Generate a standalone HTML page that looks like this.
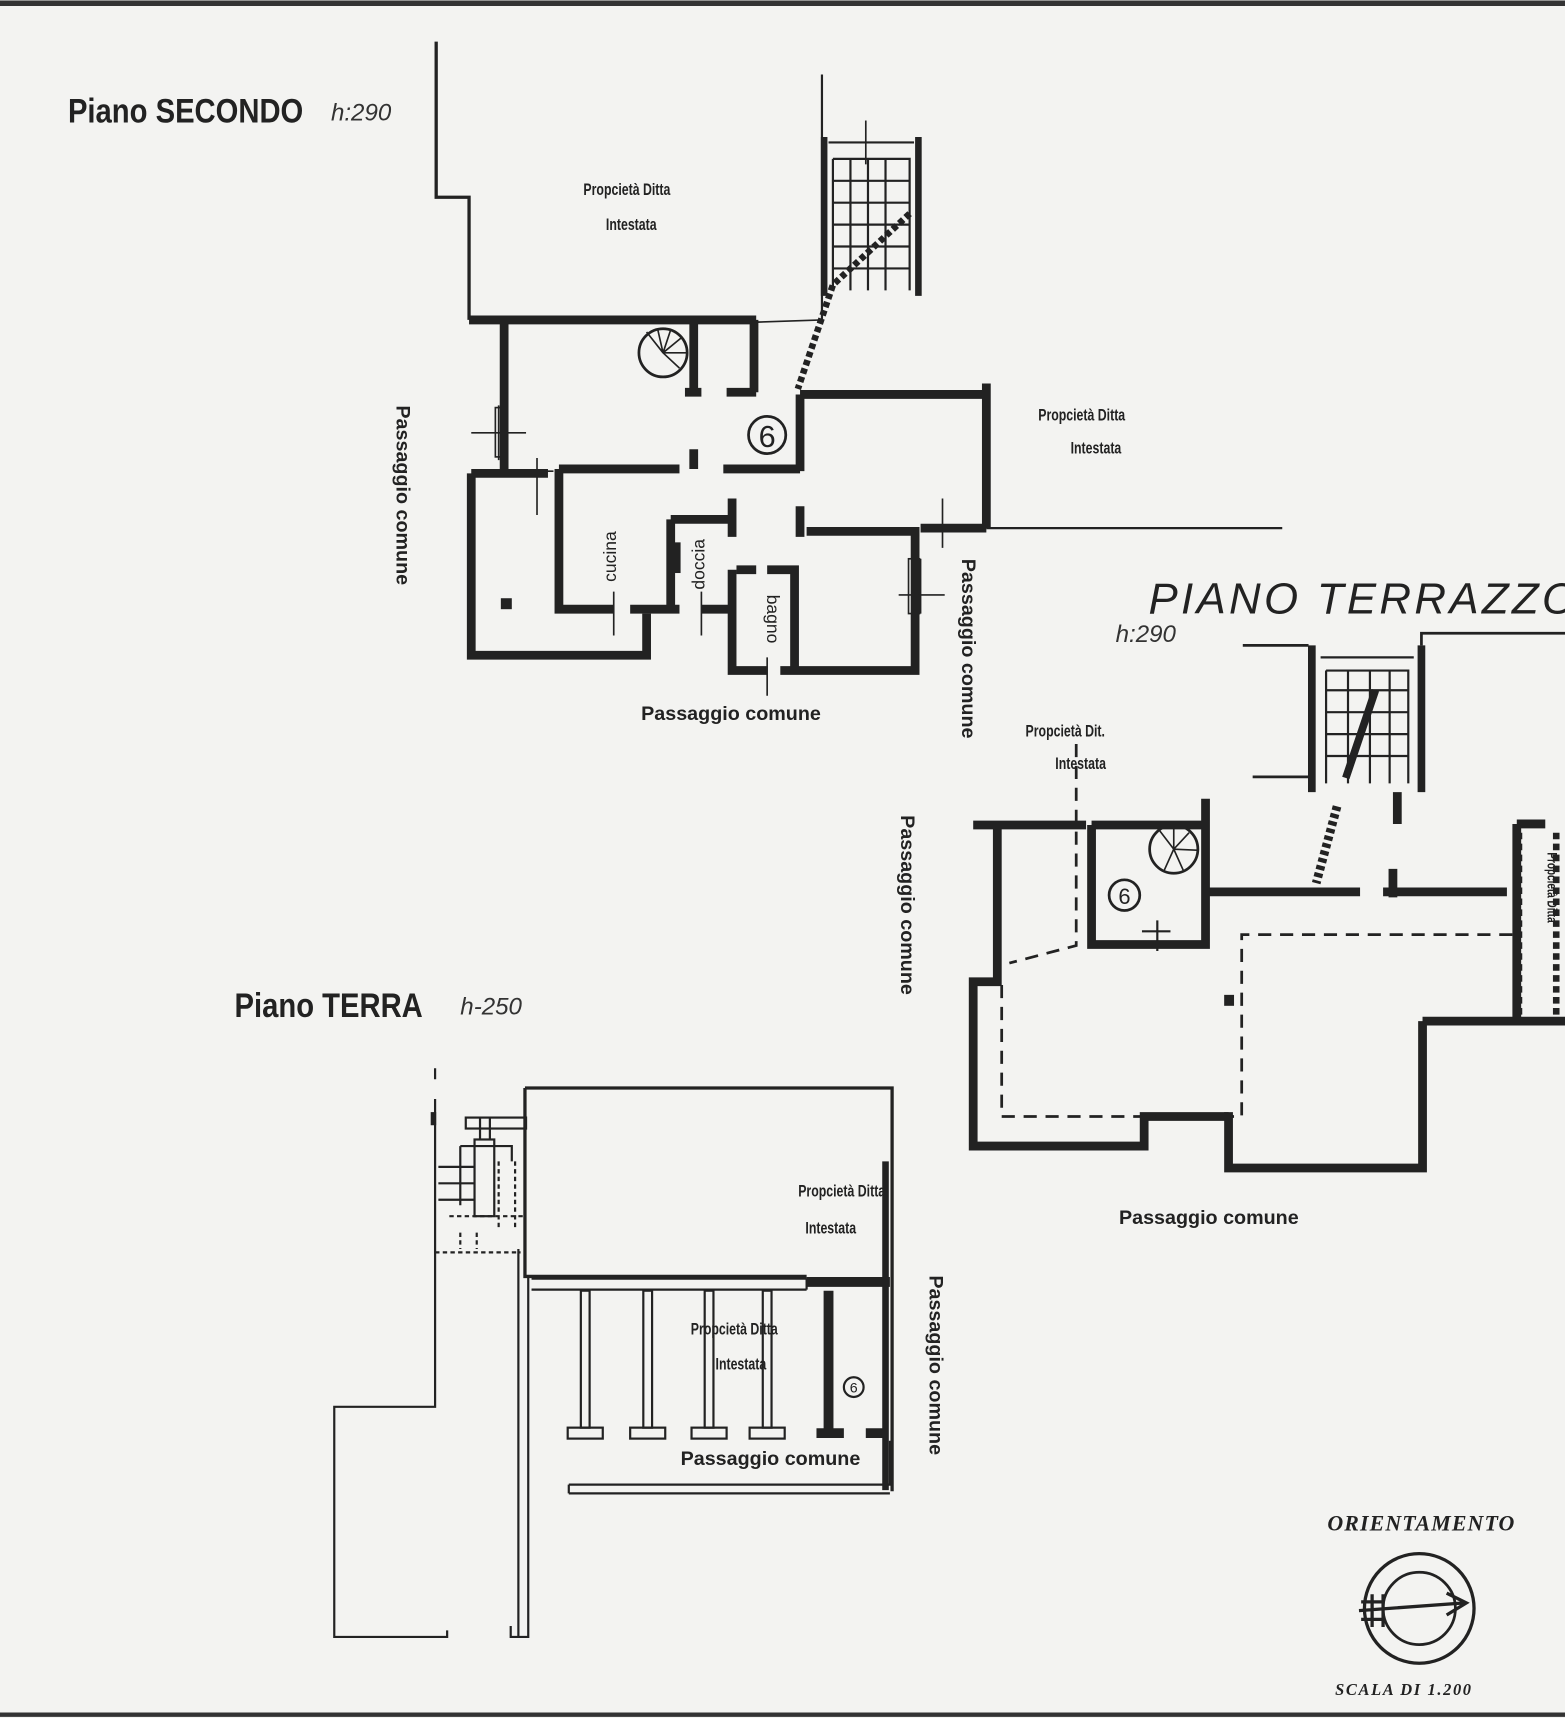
<!DOCTYPE html>
<html><head><meta charset="utf-8"><style>
html,body{margin:0;padding:0;background:#f3f3f1;}
svg{display:block}
.b{font-family:"Liberation Sans",sans-serif;font-weight:bold;fill:#222}
</style></head><body>
<svg width="1565" height="1718" viewBox="0 0 1428 1568" preserveAspectRatio="none" xmlns="http://www.w3.org/2000/svg">
<rect width="1428" height="1568" fill="#f3f3f1"/>
<line x1="0" y1="3" x2="1428" y2="3" stroke="#333" stroke-width="5"/>
<line x1="0" y1="1565" x2="1428" y2="1565" stroke="#333" stroke-width="4"/>

<!-- ============ PIANO SECONDO ============ -->
<text class="b" font-size="31" transform="translate(62,112) scale(0.86,1)">Piano SECONDO</text>
<text x="302" y="110" font-family="Liberation Sans,sans-serif" font-style="italic" font-size="22" fill="#333">h:290</text>
<g stroke="#222" fill="none">
<path d="M398 38 V180 H428 V292" stroke-width="3"/>
<path d="M750 68 V292" stroke-width="2"/>
<path d="M690 294 L750 292" stroke-width="1.5"/>
<g stroke-width="8">
<path d="M428 292 H690"/>
<path d="M460 292 V430"/>
<path d="M633 292 V358 M625 358 H640 M663 358 H690 M688 292 V358"/>
<path d="M430 432 H500 M430 432 V598 H590 V560"/>
<path d="M510 428 H620 M660 428 H730 M633 410 V428"/>
<path d="M730 360 V430 M730 360 H900 M900 350 V482"/>
<path d="M510 428 V556 H560 M575 556 H620 M640 556 H668"/>
<path d="M612 474 H668 M668 455 V490 M612 474 V556"/>
<path d="M668 520 V612 H700 M712 612 H835 V485 H736 M730 462 V490"/>
<path d="M690 520 H672 M700 520 H725 V612"/>
<path d="M840 482 H900"/>
</g>
<path d="M900 482 H1170" stroke-width="2"/>
<path d="M752 125 V270 M838 125 V270" stroke-width="6"/>
<path d="M756 130 H834 M760 145 H830 V265 M760 145 V265 M776 145 V265 M792 145 V265 M808 145 V265 M760 165 H830 M760 185 H830 M760 205 H830 M760 225 H830 M760 245 H830" stroke-width="2"/>
<path d="M830 195 L760 260 L728 355" stroke-width="6" stroke-dasharray="5 3"/>
<path d="M790 110 V150" stroke-width="1.5"/>
<circle cx="605" cy="322" r="22" stroke-width="2.5"/>
<path d="M605 322 L590 303 M605 322 L600 300 M605 322 L612 301 M605 322 L622 308 M605 322 L626 322 M605 322 L620 336" stroke-width="1.5"/>
<path d="M430 395 H480 M455 370 V420 M490 418 V470 M475 430 H505 M820 543 H862 M840 510 V560 M560 540 V580 M640 540 V580 M700 600 V635 M860 455 V500" stroke-width="1.5"/>
<rect x="452" y="372" width="10" height="45" stroke-width="1.5"/>
<rect x="829" y="510" width="10" height="50" stroke-width="1.5"/>
</g>
<rect x="457" y="546" width="10" height="10" fill="#222"/>
<rect x="613" y="495" width="8" height="28" fill="#222"/>
<circle cx="700" cy="397" r="17" fill="none" stroke="#222" stroke-width="2.5"/>
<text x="700" y="408" text-anchor="middle" font-family="Liberation Sans,sans-serif" font-size="28" fill="#222">6</text>
<text class="b" font-size="15" transform="translate(572,178) scale(0.75,1)" text-anchor="middle">Propcietà Ditta</text>
<text class="b" font-size="15" transform="translate(576,210) scale(0.75,1)" text-anchor="middle">Intestata</text>
<text class="b" font-size="15" transform="translate(987,384) scale(0.75,1)" text-anchor="middle">Propcietà Ditta</text>
<text class="b" font-size="15" transform="translate(1000,414) scale(0.75,1)" text-anchor="middle">Intestata</text>
<text class="b" font-size="18" transform="translate(362,452) rotate(90)" text-anchor="middle">Passaggio comune</text>
<text class="b" font-size="18" transform="translate(878,592) rotate(90)" text-anchor="middle">Passaggio comune</text>
<text class="b" font-size="18" transform="translate(667,657)" text-anchor="middle">Passaggio comune</text>
<text font-family="Liberation Sans,sans-serif" font-size="16" fill="#222" transform="translate(562,508) rotate(-90)" text-anchor="middle">cucina</text>
<text font-family="Liberation Sans,sans-serif" font-size="16" fill="#222" transform="translate(643,515) rotate(-90)" text-anchor="middle">doccia</text>
<text font-family="Liberation Sans,sans-serif" font-size="16" fill="#222" transform="translate(700,565) rotate(90)" text-anchor="middle">bagno</text>

<!-- ============ PIANO TERRAZZO ============ -->
<text x="1048" y="560" font-family="Liberation Sans,sans-serif" font-style="italic" font-size="40" fill="#222" letter-spacing="3">PIANO  TERRAZZO</text>
<text x="1018" y="586" font-family="Liberation Sans,sans-serif" font-style="italic" font-size="22" fill="#333">h:290</text>
<g stroke="#222" fill="none">
<path d="M1134 589 H1194 M1297 589 V578 H1428 M1143 709 H1194" stroke-width="2.5"/>
<path d="M1197 589 V723 M1297 589 V723" stroke-width="7"/>
<path d="M1205 600 H1290 M1210 612 H1285 V715 M1210 612 V715 M1230 612 V715 M1250 612 V715 M1268 612 V715 M1210 630 H1285 M1210 650 H1285 M1210 670 H1285 M1210 690 H1285" stroke-width="2"/>
<path d="M1255 630 L1228 710" stroke-width="7"/>
<path d="M1220 736 L1201 806" stroke-width="8" stroke-dasharray="4 3"/>
<g stroke-width="8">
<path d="M1275 723 V752 M1271 793 V819"/>
<path d="M1099 814 H1241 M1262 814 H1375"/>
<path d="M1384 752 V936 M1384 752 H1410"/>
<path d="M1298 932 H1428 M1298 932 V1066 H1121 V1015"/>
<path d="M1121 1019 H1044 V1046 H888 V896 H910 V753 H888 M910 753 H991"/>
<path d="M996 753 H1100 M1100 729 V862 H996 V753"/>
</g>
<path d="M1386 760 V930 M1420 760 V930" stroke-width="6" stroke-dasharray="6 4"/>
<path d="M982 679 V863 L921 879 M914 899 V1019 H1133 V853 H1380" stroke-width="2.5" stroke-dasharray="12 8"/>
<circle cx="1071" cy="775" r="22" stroke-width="2.5"/>
<path d="M1071 775 L1058 758 M1071 775 L1071 753 M1071 775 L1085 760 M1071 775 L1092 776 M1071 775 L1062 795 M1071 775 L1080 795" stroke-width="1.5"/>
<circle cx="1026" cy="817" r="14" stroke-width="2.5"/>
<path d="M1042 850 H1068 M1056 840 V868" stroke-width="2"/>
</g>
<text x="1026" y="825" text-anchor="middle" font-family="Liberation Sans,sans-serif" font-size="20" fill="#222">6</text>
<rect x="1117" y="908" width="9" height="10" fill="#222"/>
<text class="b" font-size="15" transform="translate(972,672) scale(0.75,1)" text-anchor="middle">Propcietà Dit.</text>
<text class="b" font-size="15" transform="translate(986,702) scale(0.75,1)" text-anchor="middle">Intestata</text>
<text class="b" font-size="18" transform="translate(822,826) rotate(90)" text-anchor="middle">Passaggio comune</text>
<text class="b" font-size="18" transform="translate(1103,1117)" text-anchor="middle">Passaggio comune</text>
<text class="b" font-size="13" transform="translate(1412,810) rotate(90) scale(0.7,1)" text-anchor="middle">Propcietà Ditta</text>

<!-- ============ PIANO TERRA ============ -->
<text class="b" font-size="31" transform="translate(214,928) scale(0.86,1)">Piano TERRA</text>
<text x="420" y="926" font-family="Liberation Sans,sans-serif" font-style="italic" font-size="22" fill="#333">h-250</text>
<g stroke="#222" fill="none">
<path d="M479 993 H814 V1361" stroke-width="3"/>
<path d="M479 993 V1165 H736" stroke-width="3"/>
<path d="M485 1167 H736 M485 1177 H736 M736 1167 V1177" stroke-width="2"/>
<path d="M736 1170 H812" stroke-width="9"/>
<path d="M808 1060 V1360" stroke-width="6"/>
<path d="M756 1178 V1305 M745 1308 H770 M790 1308 H808" stroke-width="9"/>
<g stroke-width="2">
<rect x="530" y="1178" width="8" height="125"/><rect x="518" y="1303" width="32" height="10"/>
<rect x="587" y="1178" width="8" height="125"/><rect x="575" y="1303" width="32" height="10"/>
<rect x="643" y="1178" width="8" height="125"/><rect x="631" y="1303" width="32" height="10"/>
<rect x="696" y="1178" width="8" height="125"/><rect x="684" y="1303" width="32" height="10"/>
<path d="M519 1355 H812 V1315 M519 1363 H812 M519 1355 V1363"/>
<path d="M397 975 V985 M397 1003 V1284 H305 V1494 H408 V1488 M305 1494 H408"/>
<path d="M473 1140 V1494 H466 V1484 M482 1165 V1494 H473"/>
<rect x="425" y="1020" width="55" height="10"/>
<rect x="433" y="1040" width="18" height="70"/>
<path d="M438 1020 V1040 M447 1020 V1040 M420 1046 H467 V1060 M420 1046 V1100 M400 1065 H433 M400 1080 H433 M400 1095 H433"/>
</g>
<path d="M455 1060 V1120 M470 1060 V1120 M410 1110 H480 M420 1125 V1140 M435 1125 V1140 M397 1143 H475" stroke-width="2" stroke-dasharray="4 3"/>
</g>
<rect x="393" y="1015" width="5" height="12" fill="#222"/>
<circle cx="779" cy="1266" r="9" fill="none" stroke="#222" stroke-width="2"/>
<text x="779" y="1271" text-anchor="middle" font-family="Liberation Sans,sans-serif" font-size="13" fill="#222">6</text>
<text class="b" font-size="15" transform="translate(768,1092) scale(0.75,1)" text-anchor="middle">Propcietà Ditta</text>
<text class="b" font-size="15" transform="translate(758,1126) scale(0.75,1)" text-anchor="middle">Intestata</text>
<text class="b" font-size="15" transform="translate(670,1218) scale(0.75,1)" text-anchor="middle">Propcietà Ditta</text>
<text class="b" font-size="15" transform="translate(676,1250) scale(0.75,1)" text-anchor="middle">Intestata</text>
<text class="b" font-size="18" transform="translate(703,1337)" text-anchor="middle">Passaggio comune</text>
<text class="b" font-size="18" transform="translate(848,1246) rotate(90)" text-anchor="middle">Passaggio comune</text>

<!-- ============ ORIENTAMENTO ============ -->
<text x="1297" y="1397" text-anchor="middle" font-family="Liberation Serif,serif" font-style="italic" font-weight="bold" font-size="20" fill="#222" letter-spacing="1">ORIENTAMENTO</text>
<circle cx="1295" cy="1468" r="50" fill="none" stroke="#222" stroke-width="3"/>
<circle cx="1295" cy="1468" r="33" fill="none" stroke="#222" stroke-width="2.5"/>
<path d="M1240 1470 L1335 1463 M1320 1454 L1338 1463 L1320 1474 M1242 1462 L1262 1462 M1242 1478 L1262 1478 M1252 1455 V1485 M1262 1455 V1485" stroke="#222" stroke-width="3" fill="none"/>
<text x="1281" y="1547" text-anchor="middle" font-family="Liberation Serif,serif" font-style="italic" font-weight="bold" font-size="15" fill="#222" letter-spacing="1.5">SCALA DI 1.200</text>
</svg>
</body></html>
